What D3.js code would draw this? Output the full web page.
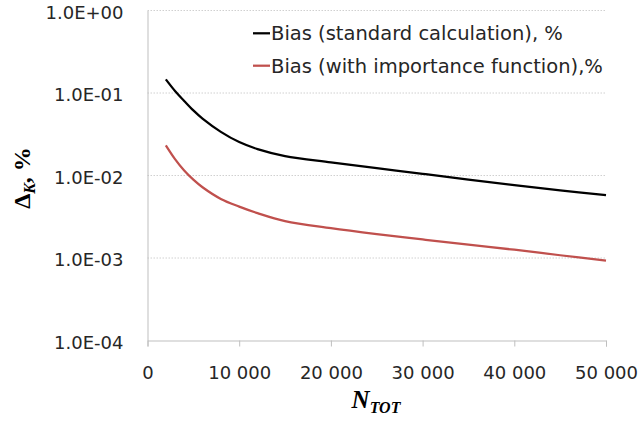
<!DOCTYPE html>
<html>
<head>
    <meta charset="utf-8" />
    <script src="https://cdn.jsdelivr.net/npm/d3@7"></script>
    <style>
        body { margin: 0; background: #fff; }
        text { font-family: "DejaVu Sans", sans-serif; fill: #262626; }
        .ttl { font-family: "Liberation Serif", "DejaVu Serif", serif; font-weight: bold; fill: #000; }
    </style>
</head>
<body>
</body>

<script>
    // N_TOT values (x)
    var nTot = [2000, 3000, 4000, 5000, 6000, 8000, 10000, 12000, 15000, 20000, 25000, 30000, 35000, 40000, 45000, 50000];
    // bias, standard calculation
    var biasStd = [0.146, 0.1057, 0.0802, 0.0615, 0.0489, 0.0338, 0.0254, 0.0209, 0.0172, 0.01445, 0.0123, 0.01047, 0.00893, 0.00766, 0.0066, 0.00578];
    // bias, with importance function
    var biasImp = [0.0232, 0.0158, 0.0115, 0.0089, 0.0072, 0.0052, 0.0042, 0.0035, 0.0028, 0.0023, 0.00195, 0.00168, 0.00145, 0.00126, 0.00108, 0.00093];

    var seriesNames = ["Bias (standard calculation), %", "Bias (with importance function),%"];
    var xTicks = [0, 10000, 20000, 30000, 40000, 50000];
    var xTickLabels = ["0", "10 000", "20 000", "30 000", "40 000", "50 000"];
    var yTicks = [1e-4, 1e-3, 1e-2, 1e-1, 1];
    var yTickLabels = ["1.0E-04", "1.0E-03", "1.0E-02", "1.0E-01", "1.0E+00"];

    var W = 641, H = 423;
    var svg = d3.select("body").append("svg").attr("width", W).attr("height", H);

    var x = d3.scaleLinear().domain([0, 50000]).range([147.5, 606]);
    var y = d3.scaleLog().domain([1e-4, 1]).range([340.5, 10.5]);

    // dotted gridlines
    svg.append("g").selectAll("line")
        .data(yTicks.slice(1))
        .enter().append("line")
        .attr("x1", x(0)).attr("x2", x(50000))
        .attr("y1", function (d) { return y(d); })
        .attr("y2", function (d) { return y(d); })
        .attr("stroke", "#d0d0d0")
        .attr("stroke-dasharray", "1.5,1.5");

    // y axis
    var yAxis = svg.append("g")
        .attr("transform", "translate(" + x(0) + ",0)")
        .call(d3.axisLeft(y).tickValues(yTicks).tickSize(0).tickPadding(24)
            .tickFormat(function (d, i) { return yTickLabels[i]; }));
    yAxis.select(".domain").attr("stroke", "#bfbfbf");
    yAxis.selectAll("text").attr("font-size", 18).attr("fill", "#262626")
        .attr("font-family", "DejaVu Sans").attr("dy", "0.44em");

    // x axis
    var xAxis = svg.append("g")
        .attr("transform", "translate(0," + y(1e-4) + ")")
        .call(d3.axisBottom(x).tickValues(xTicks).tickSize(6).tickPadding(20)
            .tickFormat(function (d, i) { return xTickLabels[i]; }));
    xAxis.select(".domain").attr("stroke", "#bfbfbf");
    xAxis.selectAll(".tick line").attr("stroke", "#bfbfbf");
    xAxis.selectAll("text").attr("font-size", 18).attr("fill", "#262626")
        .attr("font-family", "DejaVu Sans");

    // lines
    var line = d3.line()
        .x(function (d, i) { return x(nTot[i]); })
        .y(function (d) { return y(d); })
        .curve(d3.curveCatmullRom.alpha(0.5));

    var colors = ["#000000", "#c0504d"];
    [biasStd, biasImp].forEach(function (s, k) {
        svg.append("path")
            .datum(s)
            .attr("d", line)
            .attr("fill", "none")
            .attr("stroke", colors[k])
            .attr("stroke-width", 2.25);
    });

    // legend
    var leg = svg.append("g").selectAll("g")
        .data(seriesNames)
        .enter().append("g")
        .attr("transform", function (d, i) { return "translate(253," + (33.3 + i * 32.4) + ")"; });
    leg.append("line")
        .attr("x1", 0).attr("x2", 17)
        .attr("stroke", function (d, i) { return colors[i]; })
        .attr("stroke-width", 2.25);
    leg.append("text")
        .attr("x", 18).attr("dy", "0.36em")
        .attr("font-size", 19.5)
        .text(function (d) { return d; });

    // axis titles
    var yt = svg.append("text").attr("class", "ttl")
        .attr("transform", "translate(30,178) rotate(-90)")
        .attr("text-anchor", "middle")
        .attr("font-size", 24);
    yt.append("tspan").text("\u0394");
    yt.append("tspan").attr("font-size", 16).attr("font-style", "italic").attr("dy", 5).text("K");
    yt.append("tspan").attr("dy", -5).text(", %");

    var xt = svg.append("text").attr("class", "ttl")
        .attr("x", 376).attr("y", 408)
        .attr("text-anchor", "middle")
        .attr("font-style", "italic")
        .attr("font-size", 25);
    xt.append("tspan").text("N");
    xt.append("tspan").attr("font-size", 16).attr("dy", 5).text("TOT");
</script>

</html>
